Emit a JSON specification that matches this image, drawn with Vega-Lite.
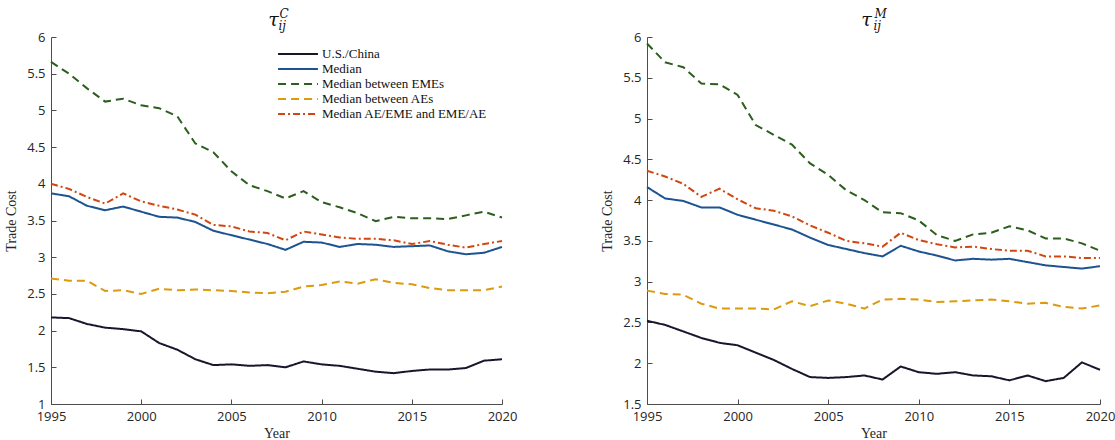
{
  "$schema": "https://vega.github.io/schema/vega-lite/v6.json",
  "padding": {"left": 4, "top": 8, "right": 0, "bottom": 4},
  "background": "white",
  "config": {
    "view": {"stroke": null},
    "font": "Open Sans",
    "axis": {
      "domainColor": "#4d4d4d",
      "domainWidth": 1,
      "tickColor": "#4d4d4d",
      "tickSize": -5,
      "tickWidth": 1,
      "labelPadding": 11,
      "labelFont": "Open Sans",
      "labelFontSize": 13,
      "labelColor": "#262626",
      "labelFlush": false,
      "labelOverlap": false,
      "grid": false,
      "titleFont": "Liberation Serif",
      "titleFontSize": 14,
      "titleFontWeight": "normal",
      "titleColor": "#262626"
    },
    "legend": {
      "title": null,
      "orient": "none",
      "legendX": 239,
      "legendY": 9,
      "symbolType": "M-2.85,0H2.85",
      "symbolSize": 196,
      "symbolStrokeWidth": 2,
      "labelFont": "Liberation Serif",
      "labelFontSize": 13,
      "labelColor": "#111111",
      "labelLimit": 400,
      "labelOffset": 16,
      "rowPadding": -0.5,
      "padding": 0
    }
  },
  "datasets": {
    "tauC": [
      {"year": 1995, "us": 2.18, "med": 3.87, "eme": 5.66, "ae": 2.71, "mix": 4.00},
      {"year": 1996, "us": 2.17, "med": 3.83, "eme": 5.50, "ae": 2.68, "mix": 3.93},
      {"year": 1997, "us": 2.09, "med": 3.70, "eme": 5.30, "ae": 2.68, "mix": 3.82},
      {"year": 1998, "us": 2.04, "med": 3.64, "eme": 5.12, "ae": 2.54, "mix": 3.73},
      {"year": 1999, "us": 2.02, "med": 3.69, "eme": 5.16, "ae": 2.55, "mix": 3.87},
      {"year": 2000, "us": 1.99, "med": 3.62, "eme": 5.07, "ae": 2.50, "mix": 3.76},
      {"year": 2001, "us": 1.83, "med": 3.55, "eme": 5.03, "ae": 2.57, "mix": 3.70},
      {"year": 2002, "us": 1.74, "med": 3.54, "eme": 4.92, "ae": 2.55, "mix": 3.65},
      {"year": 2003, "us": 1.61, "med": 3.48, "eme": 4.55, "ae": 2.56, "mix": 3.58},
      {"year": 2004, "us": 1.53, "med": 3.36, "eme": 4.43, "ae": 2.55, "mix": 3.44},
      {"year": 2005, "us": 1.54, "med": 3.30, "eme": 4.17, "ae": 2.54, "mix": 3.42},
      {"year": 2006, "us": 1.52, "med": 3.24, "eme": 3.98, "ae": 2.52, "mix": 3.35},
      {"year": 2007, "us": 1.53, "med": 3.18, "eme": 3.90, "ae": 2.51, "mix": 3.33},
      {"year": 2008, "us": 1.50, "med": 3.10, "eme": 3.80, "ae": 2.53, "mix": 3.23},
      {"year": 2009, "us": 1.58, "med": 3.21, "eme": 3.90, "ae": 2.60, "mix": 3.35},
      {"year": 2010, "us": 1.54, "med": 3.20, "eme": 3.75, "ae": 2.62, "mix": 3.31},
      {"year": 2011, "us": 1.52, "med": 3.14, "eme": 3.68, "ae": 2.67, "mix": 3.27},
      {"year": 2012, "us": 1.48, "med": 3.18, "eme": 3.60, "ae": 2.64, "mix": 3.25},
      {"year": 2013, "us": 1.44, "med": 3.17, "eme": 3.49, "ae": 2.70, "mix": 3.25},
      {"year": 2014, "us": 1.42, "med": 3.14, "eme": 3.55, "ae": 2.65, "mix": 3.23},
      {"year": 2015, "us": 1.45, "med": 3.15, "eme": 3.53, "ae": 2.63, "mix": 3.18},
      {"year": 2016, "us": 1.47, "med": 3.16, "eme": 3.53, "ae": 2.58, "mix": 3.22},
      {"year": 2017, "us": 1.47, "med": 3.08, "eme": 3.52, "ae": 2.55, "mix": 3.17},
      {"year": 2018, "us": 1.49, "med": 3.04, "eme": 3.57, "ae": 2.55, "mix": 3.13},
      {"year": 2019, "us": 1.59, "med": 3.06, "eme": 3.62, "ae": 2.55, "mix": 3.18},
      {"year": 2020, "us": 1.61, "med": 3.14, "eme": 3.54, "ae": 2.60, "mix": 3.22}
    ],
    "tauM": [
      {"year": 1995, "us": 2.52, "med": 4.16, "eme": 5.92, "ae": 2.89, "mix": 4.36},
      {"year": 1996, "us": 2.47, "med": 4.02, "eme": 5.69, "ae": 2.85, "mix": 4.29},
      {"year": 1997, "us": 2.39, "med": 3.99, "eme": 5.63, "ae": 2.84, "mix": 4.20},
      {"year": 1998, "us": 2.31, "med": 3.91, "eme": 5.43, "ae": 2.73, "mix": 4.04},
      {"year": 1999, "us": 2.25, "med": 3.91, "eme": 5.42, "ae": 2.67, "mix": 4.14},
      {"year": 2000, "us": 2.22, "med": 3.82, "eme": 5.29, "ae": 2.67, "mix": 4.01},
      {"year": 2001, "us": 2.13, "med": 3.76, "eme": 4.92, "ae": 2.67, "mix": 3.90},
      {"year": 2002, "us": 2.04, "med": 3.70, "eme": 4.80, "ae": 2.66, "mix": 3.87},
      {"year": 2003, "us": 1.93, "med": 3.64, "eme": 4.68, "ae": 2.76, "mix": 3.80},
      {"year": 2004, "us": 1.83, "med": 3.54, "eme": 4.45, "ae": 2.70, "mix": 3.69},
      {"year": 2005, "us": 1.82, "med": 3.45, "eme": 4.31, "ae": 2.77, "mix": 3.60},
      {"year": 2006, "us": 1.83, "med": 3.40, "eme": 4.12, "ae": 2.73, "mix": 3.50},
      {"year": 2007, "us": 1.85, "med": 3.35, "eme": 4.00, "ae": 2.67, "mix": 3.47},
      {"year": 2008, "us": 1.80, "med": 3.31, "eme": 3.85, "ae": 2.78, "mix": 3.43},
      {"year": 2009, "us": 1.96, "med": 3.44, "eme": 3.84, "ae": 2.79, "mix": 3.60},
      {"year": 2010, "us": 1.89, "med": 3.37, "eme": 3.75, "ae": 2.78, "mix": 3.51},
      {"year": 2011, "us": 1.87, "med": 3.32, "eme": 3.57, "ae": 2.75, "mix": 3.46},
      {"year": 2012, "us": 1.89, "med": 3.26, "eme": 3.50, "ae": 2.76, "mix": 3.42},
      {"year": 2013, "us": 1.85, "med": 3.28, "eme": 3.58, "ae": 2.77, "mix": 3.43},
      {"year": 2014, "us": 1.84, "med": 3.27, "eme": 3.60, "ae": 2.78, "mix": 3.40},
      {"year": 2015, "us": 1.79, "med": 3.28, "eme": 3.68, "ae": 2.76, "mix": 3.38},
      {"year": 2016, "us": 1.85, "med": 3.24, "eme": 3.63, "ae": 2.73, "mix": 3.38},
      {"year": 2017, "us": 1.78, "med": 3.20, "eme": 3.53, "ae": 2.74, "mix": 3.31},
      {"year": 2018, "us": 1.82, "med": 3.18, "eme": 3.53, "ae": 2.69, "mix": 3.31},
      {"year": 2019, "us": 2.01, "med": 3.16, "eme": 3.47, "ae": 2.67, "mix": 3.29},
      {"year": 2020, "us": 1.92, "med": 3.19, "eme": 3.38, "ae": 2.71, "mix": 3.29}
    ]
  },
  "spacing": 83,
  "resolve": {
    "scale": {"x": "independent", "y": "independent", "color": "independent", "strokeDash": "independent"},
    "legend": {"color": "independent", "strokeDash": "independent"}
  },
  "hconcat": [
    {
      "width": 451,
      "height": 367,
      "layer": [
        {
          "data": {"name": "tauC"},
          "transform": [{"fold": ["us", "med", "eme", "ae", "mix"], "as": ["series", "value"]}],
          "mark": {"type": "line", "strokeWidth": 2},
          "encoding": {
            "x": {"field": "year", "type": "quantitative", "title": "Year",
                  "scale": {"domain": [1995, 2020], "nice": false, "zero": false},
                  "axis": {"values": [1995, 2000, 2005, 2010, 2015, 2020], "tickCount": 6, "format": "d", "titlePadding": 3}},
            "y": {"field": "value", "type": "quantitative", "title": "Trade Cost",
                  "scale": {"domain": [1, 6], "nice": false, "zero": false},
                  "axis": {"values": [1, 1.5, 2, 2.5, 3, 3.5, 4, 4.5, 5, 5.5, 6], "tickCount": 11, "format": ".1~f", "titlePadding": 8}},
            "color": {"field": "series", "type": "nominal",
                      "scale": {"domain": ["us", "med", "eme", "ae", "mix"],
                                "range": ["#17172c", "#1d5391", "#2c5e1e", "#dc9a0e", "#d2460f"]},
                      "legend": {"labelExpr": "{'us': 'U.S./China', 'med': 'Median', 'eme': 'Median between EMEs', 'ae': 'Median between AEs', 'mix': 'Median AE/EME and EME/AE'}[datum.value]"}},
            "strokeDash": {"field": "series", "type": "nominal",
                           "scale": {"domain": ["us", "med", "eme", "ae", "mix"],
                                     "range": [[1, 0], [1, 0], [8, 5], [8, 5], [7, 3, 2, 3]]},
                           "legend": {"labelExpr": "{'us': 'U.S./China', 'med': 'Median', 'eme': 'Median between EMEs', 'ae': 'Median between AEs', 'mix': 'Median AE/EME and EME/AE'}[datum.value]"}}
          }
        },
        {
          "data": {"values": [{}]},
          "mark": {"type": "text", "text": "τ", "font": "DejaVu Serif", "fontStyle": "italic", "fontSize": 19, "align": "center", "baseline": "alphabetic", "dx": 6, "dy": -11, "color": "#111111"},
          "encoding": {"x": {"datum": 2007}, "y": {"datum": 6}}
        },
        {
          "data": {"values": [{}]},
          "mark": {"type": "text", "text": "C", "font": "DejaVu Serif", "fontStyle": "italic", "fontSize": 12, "align": "left", "baseline": "alphabetic", "dx": 12, "dy": -19, "color": "#111111"},
          "encoding": {"x": {"datum": 2007}, "y": {"datum": 6}}
        },
        {
          "data": {"values": [{}]},
          "mark": {"type": "text", "text": "ij", "font": "DejaVu Serif", "fontStyle": "italic", "fontSize": 12, "align": "left", "baseline": "alphabetic", "dx": 11, "dy": -7, "color": "#111111"},
          "encoding": {"x": {"datum": 2007}, "y": {"datum": 6}}
        }
      ]
    },
    {
      "width": 453,
      "height": 367,
      "layer": [
        {
          "data": {"name": "tauM"},
          "transform": [{"fold": ["us", "med", "eme", "ae", "mix"], "as": ["series", "value"]}],
          "mark": {"type": "line", "strokeWidth": 2},
          "encoding": {
            "x": {"field": "year", "type": "quantitative", "title": "Year",
                  "scale": {"domain": [1995, 2020], "nice": false, "zero": false},
                  "axis": {"values": [1995, 2000, 2005, 2010, 2015, 2020], "tickCount": 6, "format": "d", "titlePadding": 3}},
            "y": {"field": "value", "type": "quantitative", "title": "Trade Cost",
                  "scale": {"domain": [1.5, 6], "nice": false, "zero": false},
                  "axis": {"values": [1.5, 2, 2.5, 3, 3.5, 4, 4.5, 5, 5.5, 6], "tickCount": 10, "format": ".1~f", "titlePadding": 8}},
            "color": {"field": "series", "type": "nominal",
                      "scale": {"domain": ["us", "med", "eme", "ae", "mix"],
                                "range": ["#17172c", "#1d5391", "#2c5e1e", "#dc9a0e", "#d2460f"]},
                      "legend": null},
            "strokeDash": {"field": "series", "type": "nominal",
                           "scale": {"domain": ["us", "med", "eme", "ae", "mix"],
                                     "range": [[1, 0], [1, 0], [8, 5], [8, 5], [7, 3, 2, 3]]},
                           "legend": null}
          }
        },
        {
          "data": {"values": [{}]},
          "mark": {"type": "text", "text": "τ", "font": "DejaVu Serif", "fontStyle": "italic", "fontSize": 19, "align": "center", "baseline": "alphabetic", "dx": 2, "dy": -11, "color": "#111111"},
          "encoding": {"x": {"datum": 2007}, "y": {"datum": 6}}
        },
        {
          "data": {"values": [{}]},
          "mark": {"type": "text", "text": "M", "font": "DejaVu Serif", "fontStyle": "italic", "fontSize": 12, "align": "left", "baseline": "alphabetic", "dx": 10, "dy": -19, "color": "#111111"},
          "encoding": {"x": {"datum": 2007}, "y": {"datum": 6}}
        },
        {
          "data": {"values": [{}]},
          "mark": {"type": "text", "text": "ij", "font": "DejaVu Serif", "fontStyle": "italic", "fontSize": 12, "align": "left", "baseline": "alphabetic", "dx": 9, "dy": -7, "color": "#111111"},
          "encoding": {"x": {"datum": 2007}, "y": {"datum": 6}}
        }
      ]
    }
  ]
}
